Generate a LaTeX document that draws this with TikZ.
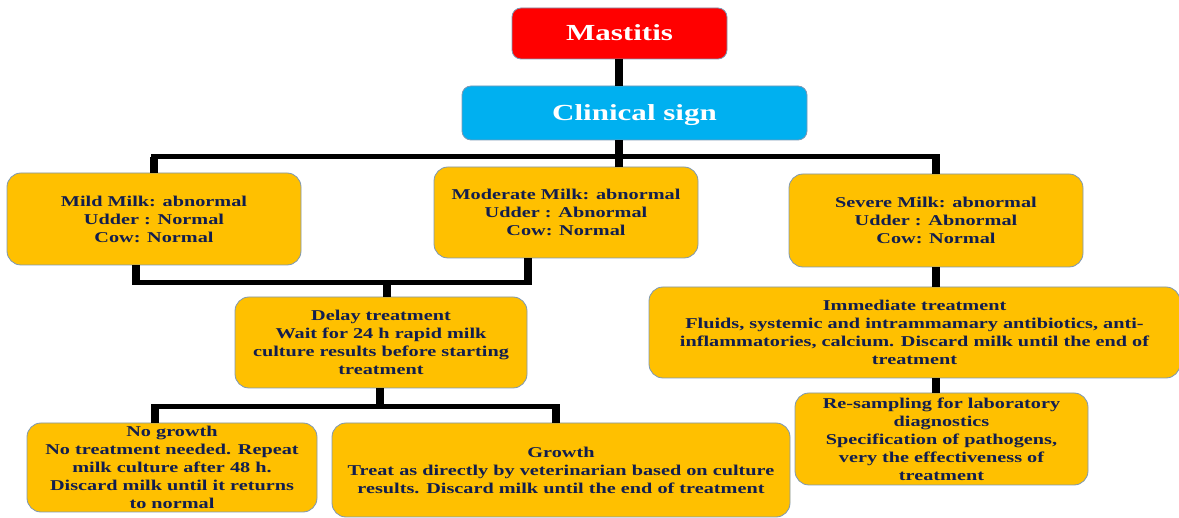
\documentclass[tikz,border=0pt]{standalone}
\usepackage{fontspec}
\setmainfont{Liberation Serif}[FakeStretch=1.35]
\definecolor{headred}{RGB}{255,0,0}
\definecolor{headcyan}{RGB}{0,176,240}
\definecolor{boxgold}{RGB}{255,192,0}
\definecolor{boxline}{RGB}{125,152,180}
\definecolor{textnavy}{RGB}{18,30,78}
\tikzset{
  headbox/.style={draw=boxline, line width=0.8pt, rounded corners=9pt, text=white,
    font=\fontsize{23}{27}\selectfont\bfseries, inner sep=0pt, text height=15pt, text depth=0pt},
  infobox/.style={draw=boxline, line width=0.8pt, fill=boxgold, rounded corners=14pt,
    text=textnavy, align=center, inner sep=0pt,
    font=\fontsize{15}{18}\selectfont\bfseries},
  stem/.style={line width=8pt},
  bar/.style={line width=5pt}
}
\begin{document}
\begin{tikzpicture}[x=1pt,y=-1pt]
  \useasboundingbox (0,0) rectangle (1179,518);
  % heads
  \node[headbox, fill=headred, minimum width=215pt, minimum height=51pt] (mastitis) at (619.5,33.5) {Mastitis};
  \node[headbox, fill=headcyan, minimum width=345pt, minimum height=54pt] (clinical) at (634.5,113) {Clinical sign};
  % grades
  \node[infobox, minimum width=294pt, minimum height=92pt] (mild) at (154,219)
    {Mild Milk: abnormal\\ Udder : Normal\\ Cow: Normal};
  \node[infobox, minimum width=264pt, minimum height=91pt] (moderate) at (566,212.5)
    {Moderate Milk: abnormal\\ Udder : Abnormal\\ Cow: Normal};
  \node[infobox, minimum width=294pt, minimum height=93pt] (severe) at (936,220.5)
    {Severe Milk: abnormal\\ Udder : Abnormal\\ Cow: Normal};
  % treatment
  \node[infobox, minimum width=292pt, minimum height=91pt] (delay) at (381,342.5)
    {Delay treatment\\ Wait for 24 h rapid milk\\ culture results before starting\\ treatment};
  \node[infobox, minimum width=531pt, minimum height=91pt] (immediate) at (914.5,332.5)
    {Immediate treatment\\ Fluids, systemic and intrammamary antibiotics, anti-\\ inflammatories, calcium. Discard milk until the end of\\ treatment};
  \node[infobox, minimum width=290pt, minimum height=89pt] (nogrowth) at (172,467.5)
    {No growth\\ No treatment needed. Repeat\\ milk culture after 48 h.\\ Discard milk until it returns\\ to normal};
  \node[infobox, minimum width=458pt, minimum height=94pt] (growth) at (561,470)
    {Growth\\ Treat as directly by veterinarian based on culture\\ results. Discard milk until the end of treatment};
  \node[infobox, minimum width=293pt, minimum height=92pt] (resample) at (941.5,439)
    {Re-sampling for laboratory\\ diagnostics\\ Specification of pathogens,\\ very the effectiveness of\\ treatment};
  % connectors
  \coordinate (hub) at (619,157);
  \coordinate (mildfoot) at (136,283);
  \coordinate (modfoot) at (528,283);
  \coordinate (delaytop) at (387,283);
  \coordinate (split) at (380,407);
  \coordinate (nofoot) at (155,407);
  \coordinate (growfoot) at (556,407);
  \coordinate (sevx) at (936,0);
  \draw[stem] (mastitis.south -| hub) -- (clinical.north -| hub);
  \draw[stem] (clinical.south -| hub) -- (moderate.north -| hub);
  \draw[bar] ([xshift=-3pt]mild.north |- hub) -- ([xshift=4pt]severe.north |- hub);
  \draw[stem] (mild.north |- hub) -- (mild.north);
  \draw[stem] (severe.north |- hub) -- (severe.north);
  \draw[stem] (mild.south -| mildfoot) -- (mildfoot);
  \draw[stem] (moderate.south -| modfoot) -- (modfoot);
  \draw[bar] ([xshift=-4pt]mildfoot) -- ([xshift=4pt]modfoot);
  \draw[stem] ([yshift=2pt]delaytop) -- (delay.north -| delaytop);
  \draw[stem] (delay.south -| split) -- (split);
  \draw[bar] ([xshift=-4pt]nofoot) -- ([xshift=4pt]growfoot);
  \draw[stem] (nofoot) -- (nogrowth.north -| nofoot);
  \draw[stem] (growfoot) -- (growth.north -| growfoot);
  \foreach \a/\b in {severe/immediate, immediate/resample}
    \draw[stem] (\a.south -| sevx) -- (\b.north -| sevx);
\end{tikzpicture}
\end{document}
